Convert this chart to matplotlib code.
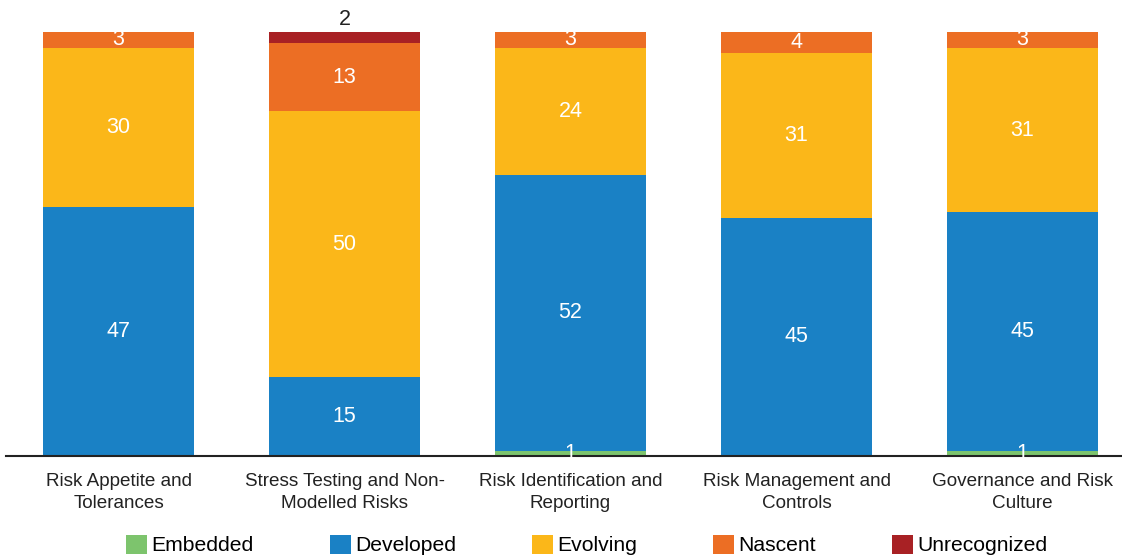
import numpy as np
import matplotlib.pyplot as plt

plt.rcParams['font.family'] = ['Liberation Sans', 'DejaVu Sans']

# Categorias e contagens por nível de maturidade
categorias = ['Risk Appetite and\nTolerances',
              'Stress Testing and Non-\nModelled Risks',
              'Risk Identification and\nReporting',
              'Risk Management and\nControls',
              'Governance and Risk\nCulture']
niveis = ['Embedded', 'Developed', 'Evolving', 'Nascent', 'Unrecognized']
embedded = [0, 0, 1, 0, 1]
developed = [47, 15, 52, 45, 45]
evolving = [30, 50, 24, 31, 31]
nascent = [3, 13, 3, 4, 3]
unrecognized = [0, 2, 0, 0, 0]
cores = ['#7dc46d', '#1a81c5', '#fbb719', '#ec6e24', '#a82124']

series = [embedded, developed, evolving, nascent, unrecognized]

fig = plt.figure(figsize=(11.22, 5.56), dpi=100)
ax = fig.add_axes([5.5 / 1122, 100 / 556, 1116.5 / 1122, 424 / 556])

x = np.arange(len(categorias))
base = np.zeros(len(categorias))
for nome, vals, cor in zip(niveis, series, cores):
    vals = np.array(vals, dtype=float)
    ax.bar(x, vals, bottom=base, width=0.668, color=cor, label=nome)
    for i, v in enumerate(vals):
        if v <= 0:
            continue
        if nome == 'Unrecognized':
            ax.text(x[i], base[i] + v + 0.4, f'{int(v)}', ha='center', va='bottom',
                    color='#222222', fontsize=15.5, clip_on=False)
        else:
            ax.text(x[i], base[i] + v / 2, f'{int(v)}', ha='center', va='center',
                    color='white', fontsize=15.5)
    base += vals

ax.set_xlim(-0.5, 4.44)
ax.set_ylim(0, 80)
ax.set_yticks([])
ax.set_xticks(x)
ax.set_xticklabels(categorias, fontsize=13.6, color='#222222', linespacing=1.38)
ax.tick_params(axis='x', length=0, pad=12)
for s in ['top', 'right', 'left']:
    ax.spines[s].set_visible(False)
ax.spines['bottom'].set_linewidth(1.5)
ax.spines['bottom'].set_color('#222222')

fig.legend(loc='center', bbox_to_anchor=(0.523, 1 - 545 / 556), ncol=5, frameon=False,
           fontsize=15.2, handlelength=1.0, handleheight=1.0, handletextpad=0.2,
           columnspacing=3.6, borderaxespad=0)

fig.savefig('out.png', dpi=100)
